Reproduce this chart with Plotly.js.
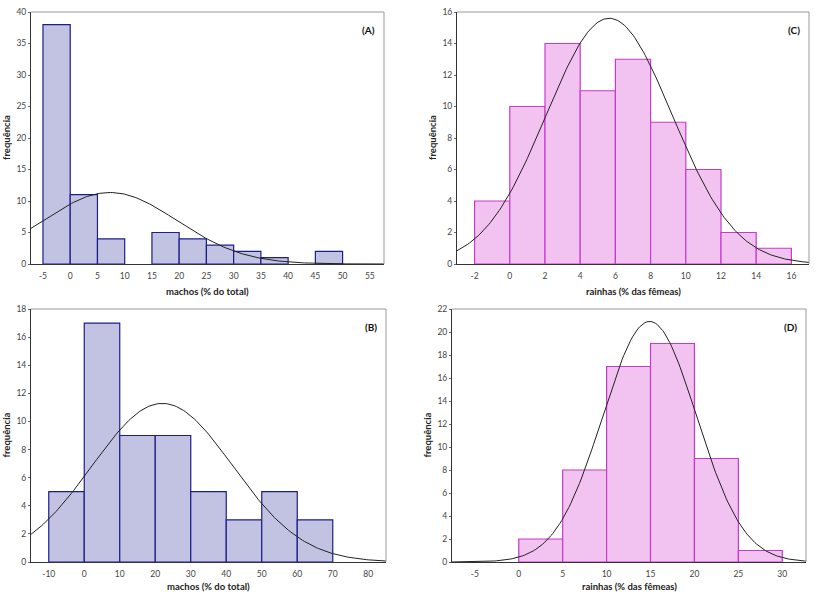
<!DOCTYPE html>
<html><head><meta charset="utf-8">
<script src="https://cdn.plot.ly/plotly-3.0.1.min.js"></script>
<style>html,body{margin:0;padding:0;background:#fff}#c{width:818px;height:592px}</style>
</head><body><div id="c"></div>
<script>
// Panel A: machos (% do total)
var binsA = [-5, 0, 5, 15, 20, 25, 30, 35, 45];
var countsA = [38, 11, 4, 5, 4, 3, 2, 1, 2];
var widthA = 5, meanA = 7.3, sdA = 12.3;
// Panel B: machos (% do total)
var binsB = [-10, 0, 10, 20, 30, 40, 50, 60];
var countsB = [5, 17, 9, 9, 5, 3, 5, 3];
var widthB = 10, meanB = 22, sdB = 19.8;
// Panel C: rainhas (% das fêmeas)
var binsC = [-2, 0, 2, 4, 6, 8, 10, 12, 14];
var countsC = [4, 10, 14, 11, 13, 9, 6, 2, 1];
var widthC = 2, meanC = 5.65, sdC = 3.58;
// Panel D: rainhas (% das fêmeas)
var binsD = [0, 5, 10, 15, 20, 25];
var countsD = [2, 8, 17, 19, 9, 1];
var widthD = 5, meanD = 14.9, sdD = 5.34;

var ticksA = [-5,0,5,10,15,20,25,30,35,40,45,50,55];
var ticksB = [-10,0,10,20,30,40,50,60,70,80];
var ticksC = [-2,0,2,4,6,8,10,12,14,16];
var ticksD = [-5,0,5,10,15,20,25,30];

var blueFill = '#c2c2e2', blueLine = '#1e1e8a';
var pinkFill = '#f2c2f0', pinkLine = '#c63cc8';

function sum(a){return a.reduce(function(s,v){return s+v;},0);}
function normalCurve(lo, hi, mean, sd, n, w){
  var xs=[], ys=[], N=200;
  for (var i=0;i<=N;i++){
    var x = lo + (hi-lo)*i/N;
    xs.push(x);
    ys.push(n*w/(sd*Math.sqrt(2*Math.PI))*Math.exp(-(x-mean)*(x-mean)/(2*sd*sd)));
  }
  return {x:xs, y:ys};
}
function bars(bins, counts, w, fill, line, xa, ya){
  return {type:'bar', x:bins, y:counts, width:w, offset:0, xaxis:xa, yaxis:ya,
    marker:{color:fill, line:{color:line, width:1.2}}, hoverinfo:'skip', showlegend:false};
}
function curve(lo, hi, mean, sd, n, w, xa, ya){
  var c = normalCurve(lo, hi, mean, sd, n, w);
  return {type:'scatter', mode:'lines', x:c.x, y:c.y, xaxis:xa, yaxis:ya,
    line:{color:'#222', width:1}, hoverinfo:'skip', showlegend:false, cliponaxis:true};
}

var rA=[-7.2,57.6], rB=[-15,85], rC=[-3,17], rD=[-7.6,32.7];
var data = [
  bars(binsA, countsA, widthA, blueFill, blueLine, 'x', 'y'),
  curve(rA[0], rA[1], meanA, sdA, sum(countsA), widthA, 'x', 'y'),
  bars(binsC, countsC, widthC, pinkFill, pinkLine, 'x2', 'y2'),
  curve(rC[0], rC[1], meanC, sdC, sum(countsC), widthC, 'x2', 'y2'),
  bars(binsB, countsB, widthB, blueFill, blueLine, 'x3', 'y3'),
  curve(rB[0], rB[1], meanB, sdB, sum(countsB), widthB, 'x3', 'y3'),
  bars(binsD, countsD, widthD, pinkFill, pinkLine, 'x4', 'y4'),
  curve(rD[0], rD[1], meanD, sdD, sum(countsD), widthD, 'x4', 'y4')
];

var tickFont = {family:'Lato, "Open Sans", sans-serif', size:8.5, color:'#444'};
function xax(dom, range, ticks, anchor){
  return {domain:dom, range:range, tickvals:ticks, ticktext:ticks.map(String), anchor:anchor,
    showgrid:false, zeroline:false, showline:true, linecolor:'#333', linewidth:1,
    ticks:'outside', ticklen:4, tickcolor:'rgba(0,0,0,0)', tickfont:tickFont, fixedrange:true};
}
function yax(dom, range, dtick, anchor){
  return {domain:dom, range:range, dtick:dtick, anchor:anchor,
    showgrid:false, zeroline:false, showline:true, linecolor:'#333', linewidth:1,
    ticks:'outside', ticklen:2, tickcolor:'#666', tickfont:tickFont, fixedrange:true};
}
var W=818, H=592;
function px(a,b){return [a/W, b/W];}
function py(top,bot){return [1-bot/H, 1-top/H];}

var layout = {
  width:W, height:H, margin:{l:0,r:0,t:0,b:0}, paper_bgcolor:'#fff', plot_bgcolor:'#fff',
  barmode:'overlay', showlegend:false,
  xaxis: xax(px(31,384), rA, ticksA, 'y'),
  yaxis: yax(py(12,264), [0,40], 5, 'x'),
  xaxis2: xax(px(457,809), rC, ticksC, 'y2'),
  yaxis2: yax(py(12,264), [0,16], 2, 'x2'),
  xaxis3: xax(px(31,386), rB, ticksB, 'y3'),
  yaxis3: yax(py(309,562), [0,18], 2, 'x3'),
  xaxis4: xax(px(452,806), rD, ticksD, 'y4'),
  yaxis4: yax(py(309,562), [0,22], 2, 'x4'),
  shapes: [], annotations: []
};
var panels = [['x','y','(A)','machos (% do total)',-27],['x2','y2','(C)','rainhas (% das fêmeas)',-27],
              ['x3','y3','(B)','machos (% do total)',-24],['x4','y4','(D)','rainhas (% das fêmeas)',-24]];
var titleFont = {family:'Lato, "Open Sans", sans-serif', size:9.5, color:'#222'};
panels.forEach(function(p){
  layout.shapes.push({type:'line', xref:p[0]+' domain', yref:p[1]+' domain', x0:0, x1:1, y0:1, y1:1, line:{color:'#999', width:1}});
  layout.shapes.push({type:'line', xref:p[0]+' domain', yref:p[1]+' domain', x0:1, x1:1, y0:0, y1:1, line:{color:'#999', width:1}});
  layout.annotations.push({xref:p[0]+' domain', yref:p[1]+' domain', x:0.98, y:0.96, xanchor:'right', yanchor:'top',
    text:'<b>'+p[2]+'</b>', showarrow:false, font:{family:'Lato, "Open Sans", sans-serif', size:10, color:'#111'}});
  layout.annotations.push({xref:p[0]+' domain', yref:p[1]+' domain', x:0.5, y:0, yshift:p[4], xanchor:'center', yanchor:'middle',
    text:'<b>'+p[3]+'</b>', showarrow:false, font:titleFont});
  layout.annotations.push({xref:p[0]+' domain', yref:p[1]+' domain', x:0, xshift:-25, y:0.5, xanchor:'center', yanchor:'middle',
    text:'<b>frequência</b>', textangle:-90, showarrow:false, font:titleFont});
});
Plotly.newPlot('c', data, layout, {displayModeBar:false, staticPlot:true});
</script></body></html>
